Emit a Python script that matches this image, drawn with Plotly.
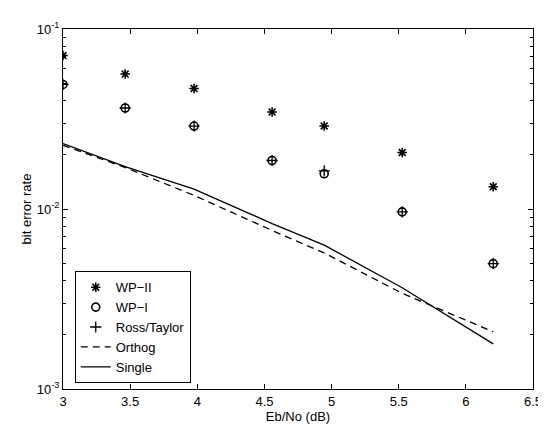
import plotly.graph_objects as go

# Data
ebno = [3.0, 3.463, 3.976, 4.557, 4.945, 5.526, 6.204]
wp2 = [0.0712, 0.0562, 0.0467, 0.0346, 0.0289, 0.0206, 0.0133]
wp1 = [0.0492, 0.0364, 0.0289, 0.0186, 0.0157, 0.00964, 0.00497]
ross = [0.0492, 0.0364, 0.0289, 0.0186, 0.0163, 0.00964, 0.00497]
orthog = [0.0226, 0.0170, 0.0119, 0.0076, 0.0057, 0.0034, 0.00208]
single = [0.0231, 0.0172, 0.0129, 0.0083, 0.0063, 0.00365, 0.00178]

xticks = [3, 3.5, 4, 4.5, 5, 5.5, 6, 6.5]
xticklabels = ["3", "3.5", "4", "4.5", "5", "5.5", "6", "6.5"]
yticks = [0.001, 0.01, 0.1]
yticklabels = ["10<sup>-3</sup>", "10<sup>-2</sup>", "10<sup>-1</sup>"]

minor_y = [m * 10 ** k for k in (-3, -2) for m in range(2, 10)]

fig = go.Figure()
fig.add_trace(go.Scatter(x=ebno, y=wp2, mode="markers", name="WP\u2212II",
                         marker=dict(symbol="asterisk-open", size=8, color="black",
                                     line=dict(color="black", width=1.6))))
fig.add_trace(go.Scatter(x=ebno, y=wp1, mode="markers", name="WP\u2212I",
                         marker=dict(symbol="circle-open", size=8, color="black",
                                     line=dict(color="black", width=1.6))))
fig.add_trace(go.Scatter(x=ebno, y=ross, mode="markers", name="Ross/Taylor",
                         marker=dict(symbol="cross-thin-open", size=8, color="black",
                                     line=dict(color="black", width=1.3))))
fig.add_trace(go.Scatter(x=ebno, y=orthog, mode="lines", name="Orthog",
                         line=dict(color="black", width=1.3, dash="7px,5px")))
fig.add_trace(go.Scatter(x=ebno, y=single, mode="lines", name="Single",
                         line=dict(color="black", width=1.3)))

font = dict(family="Liberation Sans, Arial, sans-serif", size=13, color="black")

fig.update_layout(
    width=546, height=424,
    margin=dict(l=55, r=13, t=17, b=36),
    paper_bgcolor="white", plot_bgcolor="white",
    font=font,
    showlegend=True,
    legend=dict(x=0.025, y=0.016, xanchor="left", yanchor="bottom",
                bordercolor="black", borderwidth=1, bgcolor="white",
                font=font, tracegroupgap=0, itemwidth=30),
    xaxis=dict(range=[3, 6.5], tickvals=xticks, ticktext=xticklabels,
               showgrid=False, zeroline=False, showline=True, linecolor="black",
               linewidth=1.2, mirror="ticks", ticks="inside", ticklen=5,
               tickcolor="black",
               title=dict(text="Eb/No (dB)", standoff=2, font=font)),
    yaxis=dict(type="log", range=[-3, -1], tickvals=yticks, ticktext=yticklabels,
               showgrid=False, zeroline=False, showline=True, linecolor="black",
               linewidth=1.2, mirror="ticks", ticks="inside", ticklen=5,
               tickcolor="black",
               minor=dict(tickvals=minor_y, ticks="inside", ticklen=3,
                          tickcolor="black", showgrid=False),
               title=dict(text="bit error rate", standoff=2, font=font)),
)

fig.write_html("out.html")
